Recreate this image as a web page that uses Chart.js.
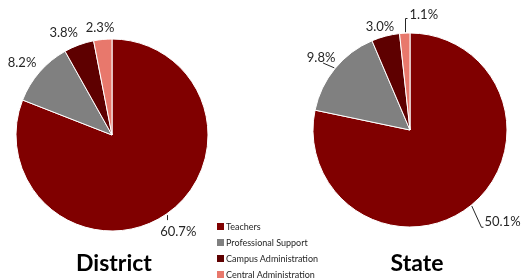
<!DOCTYPE html>
<html lang="en">

<head>
    <meta charset="UTF-8">
    <title>District vs State</title>
    <script src="https://cdn.jsdelivr.net/npm/chart.js@4"></script>
    <style>
        body { margin: 0; width: 521px; height: 279px; position: relative; background: #fff; font-family: Lato, sans-serif; overflow: hidden; }
        .box { position: absolute; top: 0; height: 279px; }
        .title { position: absolute; font-weight: bold; font-size: 23px; color: #000; transform: translate(-50%, -50%); white-space: nowrap; }
        #legend { position: absolute; left: 217px; top: 220px; font-size: 9px; color: #262626; }
        #legend div { height: 16px; line-height: 14px; white-space: nowrap; }
        #legend span { display: inline-block; width: 7px; height: 7px; margin-right: 2px; vertical-align: -0px; }
    </style>
</head>

<body>
    <div class="box" style="left:0;width:230px"><canvas id="districtChart" width="230" height="279"></canvas></div>
    <div class="box" style="left:290px;width:231px"><canvas id="stateChart" width="231" height="279"></canvas></div>
    <div class="title" style="left:114px;top:262px">District</div>
    <div class="title" style="left:417px;top:262px">State</div>
    <div id="legend"></div>

    <script>
        // chart data
        const categories = ['Teachers', 'Professional Support', 'Campus Administration', 'Central Administration'];
        const districtValues = [60.7, 8.2, 3.8, 2.3];
        const stateValues = [50.1, 9.8, 3.0, 1.1];
        const colors = ['#800000', '#808080', '#5e0000', '#e8786c'];

        // build the legend
        const legend = document.getElementById('legend');
        categories.forEach((name, i) => {
            const row = document.createElement('div');
            row.innerHTML = '<span style="background:' + colors[i] + '"></span>' + name;
            legend.appendChild(row);
        });

        // draws percent labels outside the slices, with leader lines
        const outsideLabels = {
            id: 'outsideLabels',
            afterDraw(chart, args, opts) {
                const ctx = chart.ctx;
                const meta = chart.getDatasetMeta(0);
                const values = chart.data.datasets[0].data;
                ctx.save();
                ctx.font = '13px Lato, sans-serif';
                ctx.fillStyle = '#262626';
                ctx.strokeStyle = '#262626';
                ctx.lineWidth = 1;
                ctx.textAlign = 'center';
                ctx.textBaseline = 'middle';
                meta.data.forEach((arc, i) => {
                    const mid = (arc.startAngle + arc.endAngle) / 2;
                    const r = arc.outerRadius;
                    const nudge = opts.nudges[i];
                    const lx = arc.x + Math.cos(mid) * (r + 18) + nudge[0];
                    const ly = arc.y + Math.sin(mid) * (r + 18) + nudge[1];
                    const text = values[i].toFixed(1) + '%';
                    const w = ctx.measureText(text).width;
                    const ex = arc.x + Math.cos(mid) * (r + 1);
                    const ey = arc.y + Math.sin(mid) * (r + 1);
                    const leader = opts.leaders[i];
                    ctx.beginPath();
                    if (leader === 'tick') {
                        ctx.moveTo(Math.round(ex) + 0.5, ey);
                        ctx.lineTo(Math.round(ex) + 0.5, ey + 5);
                    } else if (leader === 'right') {
                        ctx.moveTo(ex, ey);
                        ctx.lineTo(lx - w / 2 - 3, ly + 5);
                        ctx.lineTo(lx - w / 2 - 1, ly + 5);
                    } else if (leader === 'left') {
                        ctx.moveTo(ex, ey);
                        ctx.lineTo(lx + 2, ly + 5);
                    } else if (leader === 'elbow') {
                        const x0 = Math.round(ex) + 0.5;
                        ctx.moveTo(x0, ey);
                        ctx.lineTo(x0, Math.round(ly + 3) + 0.5);
                        ctx.lineTo(lx - w / 2 - 2, Math.round(ly + 3) + 0.5);
                    }
                    ctx.stroke();
                    ctx.fillText(text, lx, ly);
                });
                ctx.restore();
            }
        };

        function createPie(id, values, radius, padding, nudges, leaders) {
            const ctx = document.getElementById(id).getContext('2d');
            return new Chart(ctx, {
                type: 'pie',
                data: {
                    labels: categories,
                    datasets: [{
                        data: values,
                        backgroundColor: colors,
                        borderColor: '#ffffff',
                        borderWidth: 1
                    }]
                },
                options: {
                    responsive: false,
                    animation: false,
                    radius: radius,
                    layout: { padding: padding },
                    plugins: {
                        legend: { display: false },
                        tooltip: { enabled: false },
                        outsideLabels: { nudges: nudges, leaders: leaders }
                    }
                },
                plugins: [outsideLabels]
            });
        }

        createPie('districtChart', districtValues, 96,
            { left: 0, right: 6, top: 20, bottom: 29 },
            [[2, 3], [-4, 3], [-9, 5], [-1, 6]],
            ['tick', null, null, null]);

        createPie('stateChart', stateValues, 97,
            { left: 9, right: 0, top: 10, bottom: 29 },
            [[20, 3], [0, 1], [-1, 8], [20, 0]],
            ['right', 'left', null, 'elbow']);
    </script>
</body>

</html>
